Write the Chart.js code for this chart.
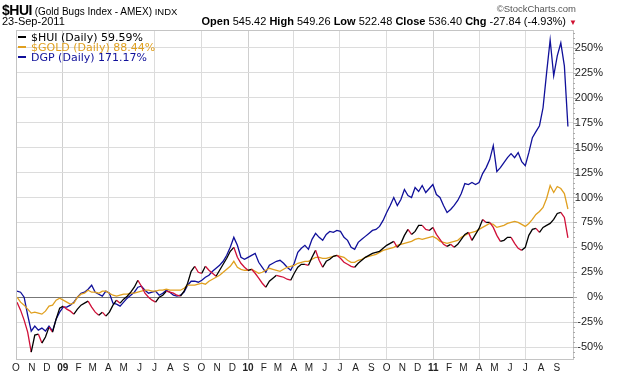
<!DOCTYPE html>
<html>
<head>
<meta charset="utf-8">
<script src="https://cdn.jsdelivr.net/npm/chart.js@4/dist/chart.umd.min.js"></script>
<style>
body { margin: 0; background: #fff; font-family: "Liberation Sans", Arial, sans-serif; }
#wrap { position: relative; width: 622px; height: 377px; overflow: hidden; }
canvas { position: absolute; left: 0; top: 0; }
.t { position: absolute; white-space: nowrap; color: #000; line-height: 1; }
.lg { position: absolute; left: 18px; white-space: nowrap; font-family: "DejaVu Sans", Verdana, sans-serif; font-size: 11px; line-height: 1; }
.lg i { display: inline-block; width: 8px; height: 2px; margin-right: 5px; vertical-align: 3px; }
</style>
</head>
<body>
<div id="wrap">
  <canvas id="chart" width="622" height="377"></canvas>
  <div class="t" style="left:2px;top:3px;font-size:10px"><b style="font-size:14px;letter-spacing:-0.5px">$HUI</b> (Gold Bugs Index - AMEX) <span style="font-size:9.5px">INDX</span></div>
  <div class="t" style="right:46px;top:4px;font-size:9.5px;color:#555">&copy;StockCharts.com</div>
  <div class="t" style="left:2px;top:16px;font-size:11px">23-Sep-2011</div>
  <div class="t" style="right:45px;top:16px;font-size:11px"><b>Open</b> 545.42 <b>High</b> 549.26 <b>Low</b> 522.48 <b>Close</b> 536.40 <b>Chg</b> -27.84 (-4.93%) <span style="color:#d01030;font-size:8px">&#9660;</span></div>
  <div class="lg" style="top:32px;color:#000"><i style="background:#000"></i>$HUI (Daily) 59.59%</div>
  <div class="lg" style="top:42px;color:#e0a020"><i style="background:#e0a020"></i>$GOLD (Daily) 88.44%</div>
  <div class="lg" style="top:52px;color:#10109a"><i style="background:#10109a"></i>DGP (Daily) 171.17%</div>
</div>
<script>
// weekly closes (Fridays), Oct 3 2008 .. Sep 23 2011, % change from start
const hui = [
  -5, -13, -23, -35, -55, -38, -37, -46, -40, -30, -35, -22, -11, -9, -12, -14, -17, -12, -8, -6,
  -4, -10, -15, -18, -15, -19, -15, -8, -3, -6, -2, 1, 5, 10, 17, 11, 4, 0, -3, -5,
  0, 2, 6, 5, 4, 2, 1, 6, 14, 26, 31, 25, 24, 31, 27, 24, 21, 27, 33, 39,
  46, 50, 40, 34, 30, 27, 28, 24, 19, 14, 10, 16, 19, 22, 21, 20, 18, 17, 24, 30,
  33, 33, 32, 40, 47, 37, 30, 36, 38, 41, 42, 39, 35, 33, 31, 30, 34, 37, 40, 42,
  44, 45, 46, 49, 52, 54, 56, 50, 54, 62, 68, 63, 66, 72, 72, 68, 67, 70, 63, 58,
  53, 51, 53, 50, 53, 58, 63, 65, 57, 63, 69, 78, 75, 75, 70, 62, 56, 57, 60, 60,
  54, 49, 47, 50, 62, 68, 69, 65, 70, 72, 74, 78, 84, 85, 80, 59.59
];
const gold = [
  0, -5, -8, -12, -16, -15, -16, -17, -14, -9, -8, -3, -1, -3, -5, -7, -6, 0, 3, 4,
  7, 5, 5, 4, 6, 6, 4, 2, 1, 2, 3, 3, 4, 4, 5, 6, 7, 7, 6, 6,
  7, 7, 8, 7, 7, 7, 7, 9, 12, 12, 12, 13, 14, 13, 16, 18, 20, 22, 25, 28,
  31, 36, 30, 28, 27, 27, 28, 26, 24, 25, 27, 29, 28, 27, 26, 28, 30, 31, 32, 34,
  35, 36, 36, 38, 40, 40, 39, 39, 40, 41, 42, 41, 40, 37, 35, 35, 37, 38, 40, 41,
  42, 43, 45, 47, 48, 49, 50, 52, 53, 54, 55, 56, 58, 59, 58, 59, 60, 61, 59, 56,
  55, 54, 55, 56, 57, 60, 62, 64, 65, 66, 68, 70, 72, 74, 73, 70, 71, 72, 74, 75,
  76, 75, 73, 71, 74, 78, 83, 86, 90, 99, 112, 105, 111, 109, 104, 88.44
];
const dgp = [
  6, 5, 0, -18, -34, -29, -33, -31, -34, -29, -34, -22, -15, -10, -10, -8, -5, 0, 4, 5,
  8, 12, 5, 3, 1, 6, 4, -6, -7, -9, -5, -1, 2, 5, 10, 11, 7, 4, 5, 6,
  2, 4, 7, 5, 2, 1, 2, 5, 12, 16, 16, 15, 17, 20, 22, 26, 29, 32, 36, 42,
  50, 60, 52, 40, 38, 40, 42, 44, 35, 30, 25, 32, 34, 36, 37, 34, 30, 27, 34, 45,
  49, 52, 48, 58, 64, 60, 57, 63, 66, 65, 67, 66, 60, 57, 50, 48, 55, 58, 61, 64,
  67, 68, 71, 77, 85, 92, 100, 92, 98, 108, 102, 100, 110, 106, 112, 105, 109, 113, 103, 100,
  92, 85, 88, 92, 97, 104, 114, 113, 115, 113, 115, 124, 130, 138, 152, 126, 130, 135, 140, 144,
  140, 145, 136, 132, 145, 160, 166, 172, 190, 225, 258, 222, 242, 255, 232, 171.17
];
const monthLabels = ['O', 'N', 'D', '09', 'F', 'M', 'A', 'M', 'J', 'J', 'A', 'S',
                     'O', 'N', 'D', '10', 'F', 'M', 'A', 'M', 'J', 'J', 'A', 'S',
                     'O', 'N', 'D', '11', 'F', 'M', 'A', 'M', 'J', 'J', 'A', 'S'];
const yTicks = [-50, -25, 0, 25, 50, 75, 100, 125, 150, 175, 200, 225, 250];

const start = new Date(2008, 9, 3);
const DAY = 86400000;
const monthDays = monthLabels.map((l, k) => Math.round((new Date(2008, 9 + k, 1) - start) / DAY));
const toPoints = arr => arr.map((v, i) => ({ x: i * 7, y: v }));

const RED = '#d01038';

const frame = {
  id: 'frame',
  afterDraw(chart) {
    const { ctx, chartArea: a, scales } = chart;
    ctx.save();
    ctx.strokeStyle = '#c4c4c4';
    ctx.lineWidth = 1;
    ctx.strokeRect(a.left + 0.5, a.top + 0.5, a.right - a.left, a.bottom - a.top);
    // minor ticks on right axis
    ctx.strokeStyle = '#aaa';
    for (let v = -60; v <= 265; v += 5) {
      const y = Math.round(scales.y.getPixelForValue(v)) + 0.5;
      ctx.beginPath();
      ctx.moveTo(a.right, y);
      ctx.lineTo(a.right + (v % 25 === 0 ? 4 : 2), y);
      ctx.stroke();
    }
    ctx.restore();
  }
};

new Chart(document.getElementById('chart'), {
  type: 'line',
  data: {
    datasets: [
      {
        label: '$HUI (Daily)',
        data: toPoints(hui),
        borderColor: '#000',
        borderWidth: 1.3,
        pointRadius: 0,
        tension: 0,
        segment: {
          borderColor: c => c.p1.parsed.y < c.p0.parsed.y ? RED : '#000'
        }
      },
      {
        label: '$GOLD (Daily)',
        data: toPoints(gold),
        borderColor: '#e0a020',
        borderWidth: 1.3,
        pointRadius: 0,
        tension: 0
      },
      {
        label: 'DGP (Daily)',
        data: toPoints(dgp),
        borderColor: '#10109a',
        borderWidth: 1.3,
        pointRadius: 0,
        tension: 0
      }
    ]
  },
  options: {
    responsive: false,
    animation: false,
    layout: { padding: { left: 16, top: 30, right: 19, bottom: 0 } },
    plugins: { legend: { display: false }, tooltip: { enabled: false } },
    scales: {
      x: {
        type: 'linear',
        min: -2,
        max: 1095,
        afterBuildTicks: s => { s.ticks = monthDays.map(d => ({ value: d })); },
        afterFit: s => { s.height = 18; },
        grid: {
          drawTicks: false,
          color: c => (c.index % 3 === 0 ? (c.index % 12 === 3 ? '#cfcfcf' : '#dcdcdc') : 'transparent')
        },
        border: { display: false },
        ticks: {
          autoSkip: false,
          maxRotation: 0,
          padding: 3,
          color: '#222',
          font: c => ({ family: 'Liberation Sans, Arial, sans-serif', size: 10, weight: /^\d/.test(monthLabels[c.index] || '') ? 'bold' : 'normal' }),
          callback: (v, i) => monthLabels[i]
        }
      },
      y: {
        position: 'right',
        min: -62,
        max: 268,
        afterBuildTicks: s => { s.ticks = yTicks.map(v => ({ value: v })); },
        afterFit: s => { s.width = 30; },
        grid: {
          drawTicks: false,
          color: c => (c.tick && c.tick.value === 0 ? '#777' : '#dcdcdc')
        },
        border: { display: false },
        ticks: {
          crossAlign: 'far',
          padding: 0,
          color: '#222',
          font: { family: 'Liberation Sans, Arial, sans-serif', size: 11 },
          callback: v => v + '%'
        }
      }
    }
  },
  plugins: [frame]
});
</script>
</body>
</html>
